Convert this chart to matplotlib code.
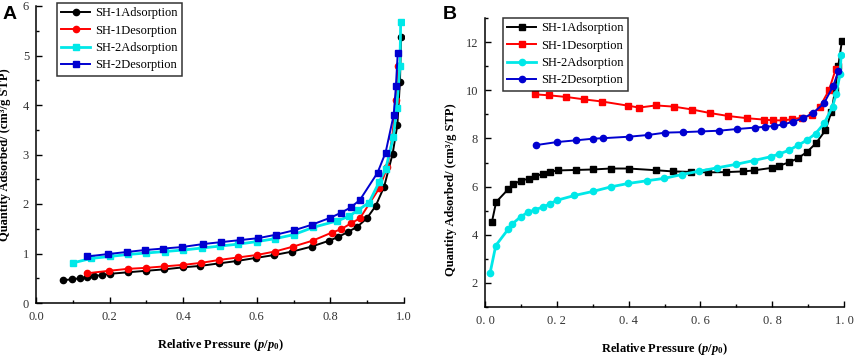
import matplotlib.pyplot as plt
from matplotlib.ticker import MultipleLocator, FixedLocator

plt.rcParams['font.family'] = ['Liberation Serif', 'DejaVu Serif']
plt.rcParams['mathtext.fontset'] = 'custom'
plt.rcParams['mathtext.rm'] = 'Liberation Serif:bold'
plt.rcParams['mathtext.it'] = 'Liberation Serif:italic:bold'
plt.rcParams['mathtext.bf'] = 'Liberation Serif:bold'

labels = ['SH-1Adsorption', 'SH-1Desorption', 'SH-2Adsorption', 'SH-2Desorption']
colors = ['black', '#ff0000', '#00e8e8', '#0000d0']

# panel A
a_x1a = [0.074, 0.099, 0.12, 0.139, 0.158, 0.178, 0.201, 0.249, 0.298, 0.349, 0.399, 0.447,
         0.497, 0.547, 0.597, 0.648, 0.697, 0.749, 0.797, 0.82, 0.849, 0.873, 0.899, 0.923,
         0.946, 0.969, 0.982, 0.989, 0.992]
a_y1a = [0.46, 0.48, 0.50, 0.52, 0.55, 0.56, 0.59, 0.62, 0.65, 0.68, 0.72, 0.75,
         0.80, 0.85, 0.91, 0.97, 1.04, 1.14, 1.26, 1.33, 1.44, 1.54, 1.71, 1.96,
         2.35, 3.01, 3.6, 4.47, 5.37]
a_x1d = [0.138, 0.198, 0.249, 0.299, 0.349, 0.399, 0.448, 0.498, 0.549, 0.60, 0.649, 0.699,
         0.752, 0.803, 0.829, 0.856, 0.88, 0.933, 0.955, 0.968, 0.978, 0.983]
a_y1d = [0.60, 0.65, 0.69, 0.71, 0.74, 0.77, 0.81, 0.87, 0.92, 0.97, 1.04, 1.14,
         1.26, 1.42, 1.49, 1.61, 1.71, 2.32, 2.75, 3.35, 4.1, 4.78]
a_x2a = [0.10, 0.15, 0.20, 0.25, 0.30, 0.35, 0.40, 0.45, 0.50, 0.55, 0.60, 0.65, 0.70,
         0.754, 0.819, 0.85, 0.876, 0.905, 0.933, 0.95, 0.971, 0.98, 0.989, 0.991]
a_y2a = [0.81, 0.90, 0.94, 0.98, 1.01, 1.04, 1.07, 1.11, 1.15, 1.19, 1.24, 1.30, 1.38,
         1.53, 1.66, 1.75, 1.88, 2.03, 2.45, 2.70, 3.35, 3.93, 4.79, 5.68]
a_x2d = [0.139, 0.197, 0.246, 0.296, 0.346, 0.396, 0.453, 0.503, 0.553, 0.604, 0.652, 0.702,
         0.749, 0.799, 0.828, 0.855, 0.88, 0.928, 0.95, 0.972, 0.978, 0.983]
a_y2d = [0.94, 0.99, 1.03, 1.07, 1.10, 1.13, 1.19, 1.23, 1.27, 1.31, 1.38, 1.47,
         1.58, 1.72, 1.82, 1.93, 2.08, 2.63, 3.04, 3.80, 4.38, 5.06]

# panel B
b_x1a = [0.019, 0.031, 0.064, 0.079, 0.101, 0.122, 0.14, 0.161, 0.181, 0.202, 0.253, 0.30,
         0.35, 0.40, 0.475, 0.523, 0.574, 0.62, 0.67, 0.72, 0.748, 0.80, 0.82, 0.848,
         0.873, 0.897, 0.922, 0.948, 0.965, 0.975, 0.984, 0.994]
b_y1a = [4.51, 5.36, 5.88, 6.10, 6.25, 6.33, 6.43, 6.53, 6.61, 6.67, 6.69, 6.71,
         6.75, 6.75, 6.68, 6.63, 6.61, 6.59, 6.60, 6.63, 6.67, 6.78, 6.87, 7.01,
         7.19, 7.44, 7.80, 8.33, 9.1, 10.0, 11.0, 12.03]
b_x1d = [0.139, 0.178, 0.227, 0.277, 0.327, 0.398, 0.429, 0.476, 0.526, 0.577, 0.628, 0.678,
         0.729, 0.778, 0.803, 0.829, 0.854, 0.882, 0.91, 0.933, 0.958, 0.977]
b_y1d = [9.83, 9.79, 9.72, 9.62, 9.53, 9.36, 9.28, 9.37, 9.32, 9.20, 9.05, 8.93,
         8.84, 8.78, 8.75, 8.75, 8.79, 8.86, 8.96, 9.32, 10.0, 10.88]
b_x2a = [0.014, 0.03, 0.065, 0.076, 0.099, 0.119, 0.14, 0.161, 0.181, 0.20, 0.249, 0.301,
         0.351, 0.399, 0.45, 0.499, 0.548, 0.597, 0.647, 0.698, 0.748, 0.796, 0.819,
         0.847, 0.871, 0.896, 0.921, 0.945, 0.968, 0.978, 0.989, 0.992]
b_y2a = [2.40, 3.55, 4.24, 4.45, 4.74, 4.93, 5.04, 5.15, 5.28, 5.43, 5.63, 5.80,
         5.99, 6.13, 6.24, 6.34, 6.50, 6.64, 6.78, 6.92, 7.08, 7.24, 7.35,
         7.51, 7.71, 7.92, 8.20, 8.63, 9.32, 9.83, 10.67, 11.47]
b_x2d = [0.141, 0.201, 0.253, 0.302, 0.33, 0.40, 0.453, 0.502, 0.551, 0.602, 0.652, 0.702,
         0.752, 0.78, 0.806, 0.831, 0.857, 0.885, 0.913, 0.944, 0.97, 0.984]
b_y2d = [7.72, 7.85, 7.92, 7.99, 8.01, 8.07, 8.14, 8.24, 8.26, 8.29, 8.32, 8.39,
         8.45, 8.48, 8.52, 8.58, 8.69, 8.83, 9.05, 9.45, 10.18, 10.78]

a_xticks = [0.0, 0.2, 0.4, 0.6, 0.8, 1.0]
a_xticklabels = ['0.0', '0.2', '0.4', '0.6', '0.8', '1.0']
b_xticks = [0.0, 0.2, 0.4, 0.6, 0.8, 1.0]
b_xticklabels = ['0. 0', '0. 2', '0. 4', '0. 6', '0. 8', '1. 0']

fig = plt.figure(figsize=(8.58, 3.59), dpi=100)
axA = fig.add_axes([36 / 858, 1 - 303 / 359, 368 / 858, 297 / 359])
axB = fig.add_axes([485 / 858, 1 - 307 / 359, 359 / 858, 289 / 359])


def style(ax):
    for s in ['top', 'right']:
        ax.spines[s].set_visible(False)
    for s in ['left', 'bottom']:
        ax.spines[s].set_linewidth(1.1)
    ax.tick_params(which='both', direction='in', labelsize=9, colors='black',
                   labelcolor='#333333', width=1)
    ax.tick_params(which='major', length=4)
    ax.tick_params(which='minor', length=2.5)
    ax.tick_params(axis='x', which='both', pad=6)
    ax.tick_params(axis='y', which='both', pad=5)
    ax.set_xlabel(r'Relative Pressure ($p/p_0$)', fontsize=9, fontweight='bold', labelpad=10)
    ax.set_ylabel('Quantity Adsorbed/ (cm³/g STP)', fontsize=9, fontweight='bold')


def add_legend(ax, x0, y0):
    leg = ax.legend(loc='upper left', bbox_to_anchor=(x0, y0), fontsize=9,
                    frameon=True, fancybox=False, edgecolor='black', handlelength=2.3,
                    borderpad=0.35, labelspacing=0.42, handletextpad=0.4,
                    borderaxespad=0)
    leg.get_frame().set_linewidth(1.1)


# panel A: SH-1 circles, SH-2 squares
series_a = [(a_x1a, a_y1a, 'o'), (a_x1d, a_y1d, 'o'), (a_x2a, a_y2a, 's'), (a_x2d, a_y2d, 's')]
for (x, y, m), c, lab in zip(series_a, colors, labels):
    lw = 2.0 if c == '#00e8e8' else 1.4
    axA.plot(x, y, marker=m, color=c, lw=lw, ms=4.5, label=lab)
axA.set_xlim(0, 1.0)
axA.set_ylim(0, 6)
axA.set_xticks(a_xticks, a_xticklabels)
axA.xaxis.set_minor_locator(MultipleLocator(0.1))
axA.yaxis.set_major_locator(MultipleLocator(1))
axA.yaxis.set_minor_locator(MultipleLocator(0.5))
style(axA)
axA.yaxis.set_label_coords(-0.068, 0.5)
add_legend(axA, 0.057, 1.01)

# panel B: SH-1 squares, SH-2 circles
series_b = [(b_x1a, b_y1a, 's'), (b_x1d, b_y1d, 's'), (b_x2a, b_y2a, 'o'), (b_x2d, b_y2d, 'o')]
for (x, y, m), c, lab in zip(series_b, colors, labels):
    lw = 2.0 if c == '#00e8e8' else 1.4
    axB.plot(x, y, marker=m, color=c, lw=lw, ms=4.5, label=lab)
axB.set_xlim(0, 1.0)
axB.set_ylim(1, 13)
axB.set_xticks(b_xticks, b_xticklabels)
axB.xaxis.set_minor_locator(MultipleLocator(0.1))
axB.yaxis.set_major_locator(FixedLocator([2, 4, 6, 8, 10, 12]))
axB.yaxis.set_minor_locator(FixedLocator([1, 3, 5, 7, 9, 11, 13]))
style(axB)
axB.yaxis.set_label_coords(-0.078, 0.405)
add_legend(axB, 0.05, 1.0)

fig.text(3 / 858, 1 - 19 / 359, 'A', fontsize=14, fontweight='bold', family='Liberation Sans')
fig.text(443 / 858, 1 - 19 / 359, 'B', fontsize=14, fontweight='bold', family='Liberation Sans')

fig.savefig('out.png', dpi=100)
